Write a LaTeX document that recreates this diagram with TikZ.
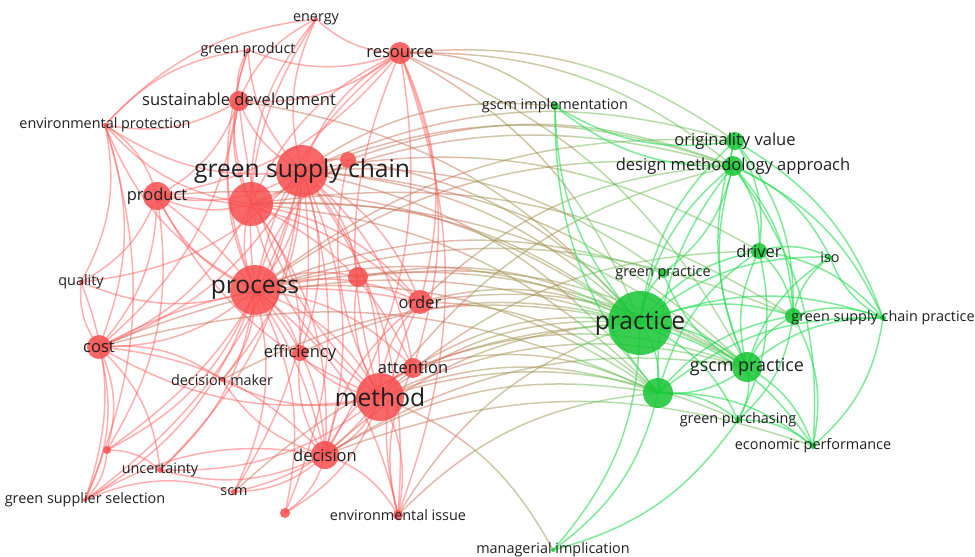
\documentclass[tikz,border=0pt]{standalone}
\usepackage{fontspec}
\setmainfont{Open Sans}
\definecolor{nodered}{RGB}{247,78,78}
\definecolor{edgered}{RGB}{255,95,95}
\definecolor{nodegreen}{RGB}{22,198,52}
\definecolor{edgegreen}{RGB}{40,220,85}
\definecolor{mixa}{RGB}{200,115,90}
\definecolor{mixb}{RGB}{160,145,80}
\definecolor{mixc}{RGB}{110,185,85}
\tikzset{
  link/.style={line width=0.85pt, draw opacity=0.5, bend left=20},
  link-red/.style={link, draw=edgered},
  link-green/.style={link, draw=edgegreen, draw opacity=0.6},
  dot-red/.style={circle, fill=nodered, fill opacity=0.85, inner sep=0pt},
  dot-green/.style={circle, fill=nodegreen, fill opacity=0.85, inner sep=0pt},
  term/.style={inner sep=0pt, text=black!88},
  term-s/.style={term, font=\fontsize{8.2}{10}\selectfont},
  term-m/.style={term, font=\fontsize{9.4}{11}\selectfont},
  term-l/.style={term, font=\fontsize{14}{16}\selectfont}
}

\begin{document}
\begin{tikzpicture}[x=0.02cm, y=-0.02cm]
  \useasboundingbox (0,0) rectangle (975,557);
  % Term positions
  \foreach \n/\x/\y in {en/316/19, gp/248/50, res/400/53, sd/239/101, ep/105/125,
      gsc/302/171, r1/348/160, r2/251/204, prod/157/196, qual/81/282, proc/255/290,
      r3/358/277, ord/420/302, cost/99/347, eff/300/353, dm/222/380, att/413/368,
      meth/380/397, dec/325/455, r4/107/450, unc/160/470, gss/85/500, scm/234/492,
      r5/285/513, ei/398/515,
      gi/555/106, ov/735/141, dma/733/166, drv/759/251, iso/830/257, gpr/663/273,
      prac/640/323, g1/793/316, gscp/883/318, gscmp/747/367, g2/658/393,
      gpu/738/420, econ/813/446, mi/553/550}
    \coordinate (\n) at (\x,\y);

  % Links inside the red cluster
  \foreach \a/\b in {gsc/en, gsc/gp, gsc/res, gsc/sd, gsc/ep, gsc/r1, gsc/r2, gsc/prod,
      gsc/qual, gsc/proc, gsc/r3, gsc/ord, gsc/cost, gsc/eff, gsc/dm, gsc/att, gsc/meth,
      gsc/dec, gsc/r4, gsc/unc, gsc/gss, gsc/scm, gsc/r5, gsc/ei,
      proc/en, proc/gp, proc/res, proc/sd, proc/ep, proc/r1, proc/r2, proc/prod, proc/qual,
      proc/r3, proc/ord, proc/cost, proc/eff, proc/dm, proc/att, proc/meth, proc/dec,
      proc/r4, proc/unc, proc/gss, proc/scm, proc/r5, proc/ei,
      meth/res, meth/sd, meth/r1, meth/r2, meth/prod, meth/r3, meth/ord, meth/cost,
      meth/eff, meth/dm, meth/att, meth/dec, meth/unc, meth/scm, meth/r5, meth/ei,
      r2/en, r2/gp, r2/res, r2/sd, r2/ep, r2/prod, r2/cost, r2/ord, r2/dec, r2/eff, r2/att,
      res/en, res/gp, res/sd, res/ord, res/att, res/dec, res/ei, res/prod,
      sd/gp, sd/ep, sd/prod, sd/cost, sd/en, ep/prod, ep/cost, ep/qual, ep/gss, ep/en, ep/gp,
      prod/qual, prod/cost, prod/dec, prod/r4, prod/ord,
      cost/qual, cost/r4, cost/dec, cost/unc, cost/gss, cost/dm, cost/ord,
      dec/scm, dec/r5, dec/ei, dec/att, dec/ord, dec/unc, dec/dm, dec/eff,
      r4/gss, r4/unc, gss/scm, gss/dec, qual/gss, ei/att, ei/ord}
    \draw[link-red] (\a) to (\b);

  % Links between the two clusters, coloured in three bands
  \foreach \xa/\xb/\c in {0/470/mixa, 470/575/mixb, 575/975/mixc} {
    \begin{scope}
      \clip (\xa,0) rectangle (\xb,557);
      \foreach \a/\b in {gsc/prac, proc/prac, meth/prac, r2/prac, res/prac, ord/prac,
          att/prac, dec/prac, r3/prac, r1/prac, cost/prac, prod/prac, sd/prac, ei/prac,
          eff/prac, dm/prac, scm/prac,
          gsc/gscmp, proc/gscmp, meth/gscmp, r2/gscmp, ord/gscmp, dec/gscmp, res/gscmp,
          att/gscmp, r3/gscmp,
          gsc/g2, proc/g2, meth/g2, dec/g2, r2/g2, att/g2, cost/g2, ord/g2, ei/g2,
          gsc/dma, proc/dma, r2/dma, meth/dma, res/dma, r1/dma, ord/dma,
          gsc/gi, res/gi, gsc/ov, res/ov, proc/ov,
          meth/mi, dec/econ, proc/g1, gsc/drv, meth/drv, gsc/gpr, proc/gpr, meth/gpu, r2/g1}
        \draw[link, draw=\c] (\a) to (\b);
    \end{scope}
  }

  % Links inside the green cluster
  \foreach \a/\b in {prac/gi, prac/ov, prac/dma, prac/drv, prac/iso, prac/gpr, prac/g1,
      prac/gscp, prac/gscmp, prac/g2, prac/gpu, prac/econ, prac/mi,
      gscmp/ov, gscmp/dma, gscmp/drv, gscmp/iso, gscmp/gpr, gscmp/g1, gscmp/gscp,
      gscmp/g2, gscmp/gpu, gscmp/econ,
      g2/dma, g2/drv, g2/g1, g2/gpu, g2/econ, g2/mi, g2/gscp, g2/gi,
      dma/ov, dma/drv, dma/g1, dma/gscp, dma/gpr, dma/gi, dma/iso, dma/econ,
      ov/drv, ov/gscp, ov/gi, ov/g1, drv/g1, drv/iso, drv/gscp, drv/gpu,
      g1/iso, g1/gscp, g1/econ, g1/gpu, gscp/econ, gscp/iso, gpu/econ, gpu/mi}
    \draw[link-green] (\a) to (\b);

  % Circles
  \foreach \n/\r in {en/2, gp/2, res/11, sd/10, ep/2, gsc/26, r1/8, r2/22, prod/14,
      qual/2, proc/25, r3/10, ord/12, cost/12, eff/8, dm/2, att/10, meth/24, dec/14,
      r4/4, unc/3, gss/2, scm/3, r5/5, ei/5}
    \node[dot-red, minimum size=\r*0.4mm] (\n-d) at (\n) {};
  \foreach \n/\r in {gi/4, ov/9, dma/10, drv/8, iso/2, gpr/5, prac/32, g1/8, gscp/3,
      gscmp/15, g2/15, gpu/3, econ/3, mi/2}
    \node[dot-green, minimum size=\r*0.4mm] (\n-d) at (\n) {};

  % Labels
  \foreach \n/\t in {en/energy, gp/green product, ep/environmental protection,
      qual/quality, dm/decision maker, unc/uncertainty, gss/green supplier selection,
      scm/scm, ei/environmental issue, iso/iso, gpr/green practice, gi/gscm implementation,
      gscp/green supply chain practice, gpu/green purchasing, econ/economic performance,
      mi/managerial implication}
    \node[term-s] (\n-t) at (\n) {\t};
  \foreach \n/\t in {res/resource, sd/sustainable development, prod/product, ord/order,
      cost/cost, eff/efficiency, att/attention, dec/decision, dma/design methodology approach,
      drv/driver, ov/originality value}
    \node[term-m] (\n-t) at (\n) {\t};
  \node[term-m, font=\fontsize{10.2}{12}\selectfont] (gscmp-t) at (gscmp) {gscm practice};
  \foreach \n/\t in {gsc/green supply chain, proc/process, meth/method, prac/practice}
    \node[term-l] (\n-t) at (\n) {\t};
\end{tikzpicture}
\end{document}
